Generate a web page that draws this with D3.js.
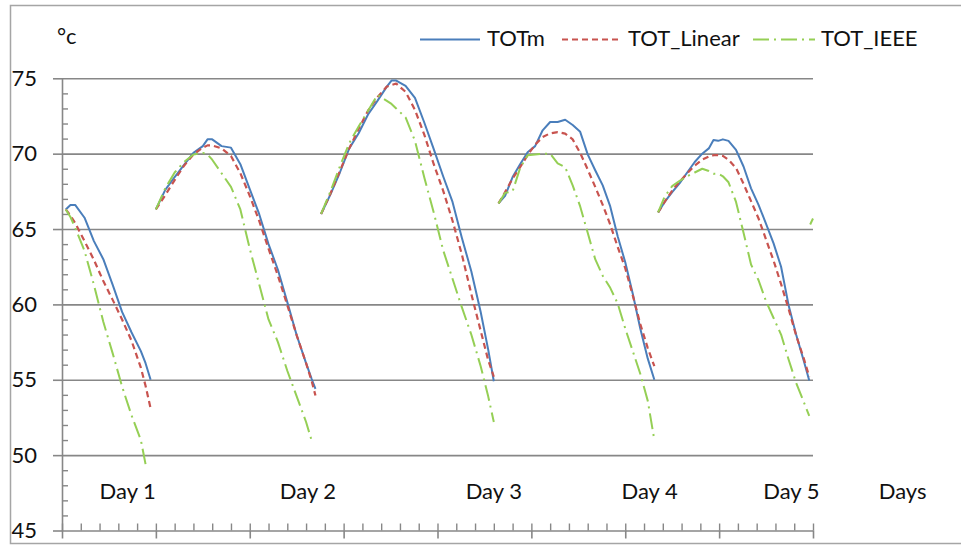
<!DOCTYPE html>
<html><head><meta charset="utf-8">
<script src="https://cdn.jsdelivr.net/npm/d3@7"></script>
<style>
body{margin:0;background:#fff}
svg{display:block}
text{font-family:Lato,"Open Sans",sans-serif;fill:#111}
</style>
</head><body><div id="chart"></div>
<script>
// ---------- data ----------
const seriesNames = ["TOTm", "TOT_Linear", "TOT_IEEE"];
const yTickValues = [45, 50, 55, 60, 65, 70, 75];
const yUnit = "°c";
const dayLabels = ["Day 1", "Day 2", "Day 3", "Day 4", "Day 5", "Days"];
const dayLabelAt = [2.0, 11.6, 21.5, 29.8, 37.35, 43.5];

const time1 = [0.2, 0.45, 0.7, 1.2, 1.7, 2.2, 2.7, 3.2, 3.7, 4.2, 4.45, 4.72];
const totm1 = [66.3, 66.6, 66.6, 65.75, 64.2, 63.0, 61.3, 59.5, 58.15, 56.9, 56.1, 55.0];
const linear1 = [66.3, 65.9, 65.4, 64.2, 62.95, 61.55, 60.3, 59.0, 57.6, 55.8, 54.6, 53.1];
const ieee1 = [66.3, 65.8, 65.1, 63.55, 61.3, 58.85, 56.75, 54.55, 52.65, 51.0, 49.4, null];

const time2 = [5.0, 5.5, 6.0, 6.5, 7.0, 7.5, 7.75, 8.0, 8.5, 9.0, 9.5, 10.0, 10.5, 11.0, 11.5, 12.0, 12.5, 13.0, 13.3, 13.5];
const totm2 = [66.3, 67.6, 68.45, 69.25, 70.05, 70.5, 70.95, 70.95, 70.5, 70.4, 69.3, 67.65, 66.0, 64.0, 62.3, 60.15, 57.95, 56.1, 55.05, 54.4];
const linear2 = [66.3, 67.25, 68.25, 69.2, 69.95, 70.4, 70.55, 70.55, 70.35, 69.85, 68.7, 67.2, 65.55, 63.7, 61.9, 59.95, 57.95, 56.1, 54.9, 53.95];
const ieee2 = [66.3, 67.7, 68.75, 69.45, 69.95, 70.05, 69.95, 69.6, 68.7, 67.8, 66.3, 63.7, 61.35, 59.0, 57.5, 55.6, 53.9, 52.2, 50.95, null];

const time3 = [13.8, 14.3, 14.8, 15.3, 15.8, 16.3, 16.8, 17.3, 17.55, 17.8, 18.3, 18.8, 19.3, 19.8, 20.3, 20.8, 21.3, 21.8, 22.3, 22.7, 23.0];
const totm3 = [66.0, 67.3, 68.75, 70.35, 71.35, 72.6, 73.5, 74.45, 74.85, 74.85, 74.5, 73.7, 72.05, 70.3, 68.5, 66.8, 64.4, 62.2, 59.5, 57.0, 54.9];
const linear3 = [66.0, 67.35, 68.85, 70.35, 71.65, 72.85, 73.75, 74.45, 74.55, 74.65, 74.1, 72.9, 71.25, 69.3, 67.55, 65.55, 63.3, 60.7, 58.25, 56.3, 55.2];
const ieee3 = [66.0, 67.5, 69.15, 70.7, 71.8, 72.85, 73.9, 73.5, 73.3, 73.0, 72.4, 70.85, 68.4, 66.1, 63.6, 61.7, 59.8, 58.0, 55.9, 53.9, 52.2];

const time4 = [23.25, 23.6, 24.0, 24.4, 24.8, 25.2, 25.6, 26.0, 26.4, 26.8, 27.2, 27.6, 28.0, 28.4, 28.8, 29.2, 29.6, 30.0, 30.4, 30.8, 31.2, 31.55];
const totm4 = [66.7, 67.2, 68.45, 69.3, 70.1, 70.5, 71.55, 72.1, 72.1, 72.25, 71.9, 71.45, 69.95, 68.9, 67.9, 66.5, 64.5, 62.8, 60.7, 58.4, 56.4, 55.0];
const linear4 = [66.7, 67.45, 68.35, 69.1, 69.9, 70.6, 71.1, 71.35, 71.43, 71.33, 70.95, 70.05, 68.95, 67.8, 66.6, 65.3, 63.8, 62.4, 60.6, 58.7, 57.1, 55.9];
const ieee4 = [66.7, 67.4, 67.5, 69.05, 69.9, 69.95, 70.0, 70.0, 69.35, 69.1, 67.9, 66.5, 64.75, 63.0, 61.9, 61.1, 60.05, 58.4, 56.9, 55.4, 53.6, 51.0];

const time5 = [31.75, 32.1, 32.5, 32.9, 33.3, 33.7, 34.1, 34.45, 34.7, 34.95, 35.2, 35.5, 35.9, 36.3, 36.7, 37.1, 37.5, 37.9, 38.3, 38.7, 39.1, 39.5, 39.8];
const totm5 = [66.1, 66.8, 67.45, 68.05, 68.75, 69.45, 70.0, 70.35, 70.9, 70.85, 70.95, 70.85, 70.25, 69.15, 67.7, 66.6, 65.35, 64.05, 62.5, 59.95, 58.0, 56.3, 54.95];
const linear5 = [66.1, 66.8, 67.55, 68.15, 68.7, 69.2, 69.6, 69.8, 69.9, 69.9, 69.85, 69.6, 69.05, 68.0, 66.85, 65.7, 64.3, 62.9, 61.35, 59.7, 57.95, 56.45, 55.2];
const ieee5 = [66.1, 67.15, 67.85, 68.2, 68.5, 68.75, 69.0, 68.85, 68.67, 68.67, 68.5, 68.1, 66.8, 64.75, 62.65, 61.6, 60.2, 59.1, 58.0, 56.35, 54.8, 53.55, 52.6];

const time6 = [39.85, 40.0];
const totm6 = [null, null];
const linear6 = [null, null];
const ieee6 = [65.3, 65.7];

// ---------- build ----------
const times = [time1, time2, time3, time4, time5, time6];
const seriesData = [
  [totm1, totm2, totm3, totm4, totm5, totm6],
  [linear1, linear2, linear3, linear4, linear5, linear6],
  [ieee1, ieee2, ieee3, ieee4, ieee5, ieee6]
];
const colors = ["#4a7ebb", "#c8534f", "#95cf55"];
const dashes = [null, "6,4", "16,5,2,5"];
const widths = [2, 2.2, 2];

const W = 961, H = 546;
const svg = d3.select("#chart").append("svg").attr("width", W).attr("height", H);

// outer frame
svg.append("rect").attr("x", 10.5).attr("y", 5.5).attr("width", 960).attr("height", 538)
  .attr("fill", "#fff").attr("stroke", "#a5a5a5").attr("stroke-width", 1.5);

const x = d3.scaleLinear().domain([0, 40]).range([62, 813]);
const y = d3.scaleLinear().domain([45, 75]).range([530.5, 78.3]);
const gridColor = "#878787";

// gridlines
const grid = svg.append("g").attr("transform", `translate(${x(0)},0)`)
  .call(d3.axisLeft(y).tickValues(yTickValues.slice(1)).tickSize(-(x(40) - x(0))).tickFormat(""));
grid.select(".domain").remove();
grid.selectAll("line").attr("stroke", gridColor).attr("stroke-width", 1.6);

// y axis major + labels
const yAx = svg.append("g").attr("transform", `translate(${x(0)},0)`)
  .call(d3.axisLeft(y).tickValues(yTickValues).tickSize(9).tickSizeOuter(0).tickPadding(16).tickFormat(d3.format("d")));
yAx.select(".domain").attr("stroke", gridColor).attr("stroke-width", 1.6);
yAx.selectAll("line").attr("stroke", gridColor).attr("stroke-width", 1.6);
yAx.selectAll("text").attr("font-size", 22).attr("font-family", "Lato").attr("fill", "#111");

// y minor ticks
const yMinor = d3.range(45, 76).filter(v => v % 5 !== 0);
const yMin = svg.append("g").attr("transform", `translate(${x(0)},0)`)
  .call(d3.axisRight(y).tickValues(yMinor).tickSize(6).tickSizeOuter(0).tickFormat(""));
yMin.select(".domain").remove();
yMin.selectAll("line").attr("stroke", gridColor).attr("stroke-width", 1.4);

// x axis: minor ticks (upward) and major ticks (downward)
const xMinorAx = svg.append("g").attr("transform", `translate(0,${y(45)})`)
  .call(d3.axisBottom(x).tickValues(d3.range(0, 41)).tickSize(-7).tickSizeOuter(0).tickFormat(""));
xMinorAx.select(".domain").attr("stroke", gridColor).attr("stroke-width", 1.6);
xMinorAx.selectAll("line").attr("stroke", gridColor).attr("stroke-width", 1.4);
const xMajorAx = svg.append("g").attr("transform", `translate(0,${y(45)})`)
  .call(d3.axisBottom(x).tickValues(d3.range(0, 41, 5)).tickSize(8).tickSizeOuter(0).tickFormat(""));
xMajorAx.select(".domain").remove();
xMajorAx.selectAll("line").attr("stroke", gridColor).attr("stroke-width", 1.6);

// series lines
const line = d3.line().defined(d => d[1] != null).x(d => x(d[0])).y(d => y(d[1]));
seriesData.forEach((segs, si) => {
  const g = svg.append("g");
  segs.forEach((vals, k) => {
    const pts = times[k].map((t, i) => [t, vals[i]]);
    if (pts.filter(p => p[1] != null).length < 2) return;
    g.append("path").attr("d", line(pts)).attr("fill", "none")
      .attr("stroke", colors[si]).attr("stroke-width", widths[si])
      .attr("stroke-dasharray", dashes[si]).attr("stroke-linejoin", "round");
  });
});

// day labels
svg.append("g").selectAll("text").data(dayLabels).join("text")
  .attr("x", (d, i) => x(dayLabelAt[i])).attr("y", y(45) - 32)
  .attr("font-size", 22).text(d => d);

// unit label
svg.append("text").attr("x", 57).attr("y", 44).attr("font-size", 22).text(yUnit);

// legend
const legX = [420, 562, 753];
const legLen = [60, 58, 62];
const legTextX = [487, 628, 821];
seriesNames.forEach((n, i) => {
  svg.append("line").attr("x1", legX[i]).attr("x2", legX[i] + legLen[i]).attr("y1", 39.5).attr("y2", 39.5)
    .attr("stroke", colors[i]).attr("stroke-width", widths[i]).attr("stroke-dasharray", dashes[i]);
  svg.append("text").attr("x", legTextX[i]).attr("y", 46).attr("font-size", 22).text(n);
});
</script>
</body></html>
